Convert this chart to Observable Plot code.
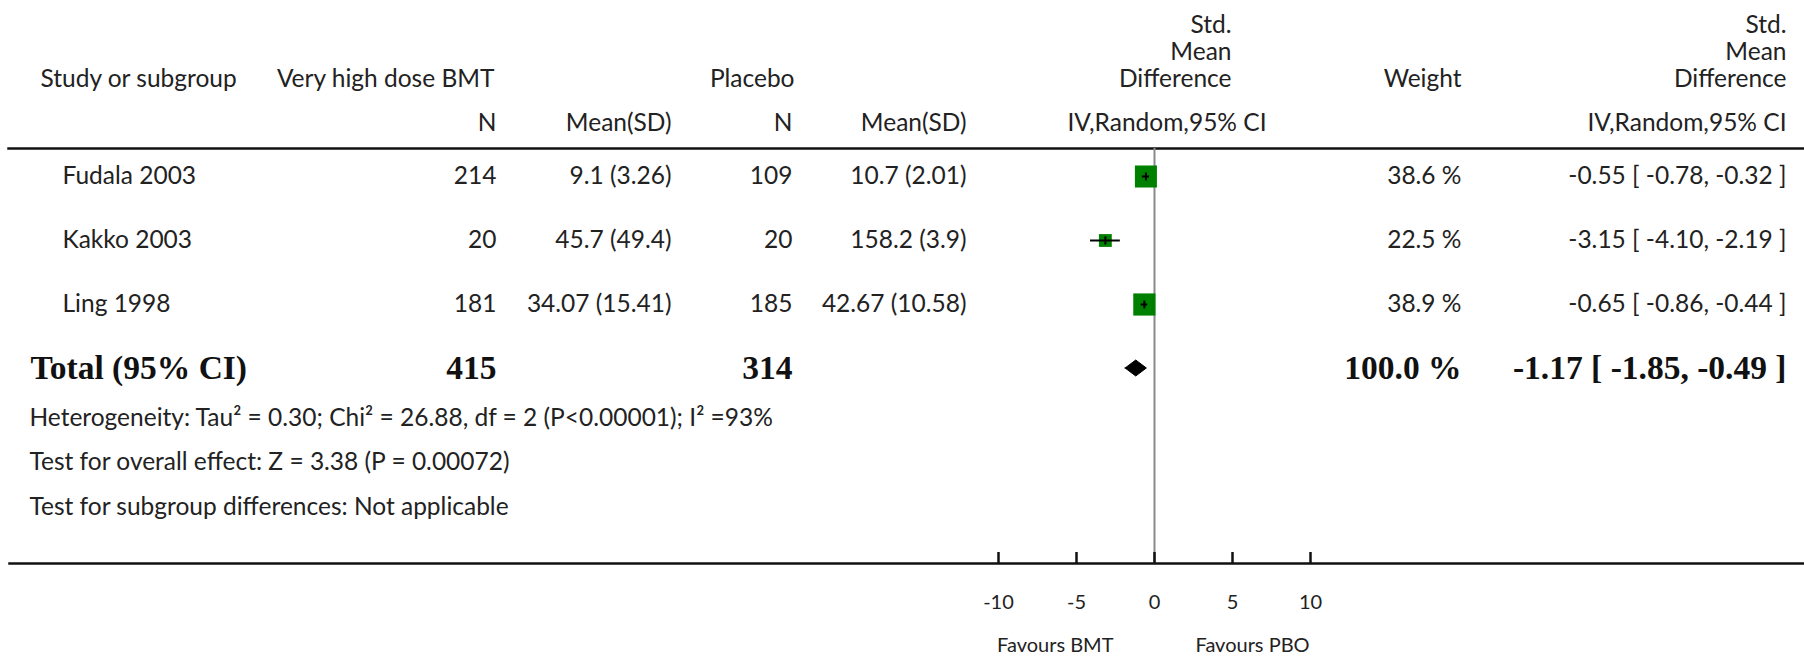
<!DOCTYPE html>
<html>
<head>
<meta charset="utf-8">
<script src="https://cdn.jsdelivr.net/npm/d3@7"></script>
<script src="https://cdn.jsdelivr.net/npm/@observablehq/plot@0.6"></script>
<style>
  html, body { margin: 0; padding: 0; background: #fff; }
</style>
</head>
<body>
<div id="chart"></div>
<script>
// ---------------- data ----------------
const studies = ["Fudala 2003", "Kakko 2003", "Ling 1998"];
const bmtN = [214, 20, 181];
const bmtMeanSD = ["9.1 (3.26)", "45.7 (49.4)", "34.07 (15.41)"];
const pboN = [109, 20, 185];
const pboMeanSD = ["10.7 (2.01)", "158.2 (3.9)", "42.67 (10.58)"];
const smd = [-0.55, -3.15, -0.65];
const ciLow = [-0.78, -4.10, -0.86];
const ciHigh = [-0.32, -2.19, -0.44];
const weight = [38.6, 22.5, 38.9];

const totalLabel = "Total (95% CI)";
const totalBmtN = 415;
const totalPboN = 314;
const totalWeight = 100.0;
const totalSmd = -1.17;
const totalLow = -1.85;
const totalHigh = -0.49;

const footnotes = [
  "Heterogeneity: Tau² = 0.30; Chi² = 26.88, df = 2 (P<0.00001); I² =93%",
  "Test for overall effect: Z = 3.38 (P = 0.00072)",
  "Test for subgroup differences: Not applicable"
];
const xTicks = [-10, -5, 0, 5, 10];
const favours = ["Favours BMT", "Favours PBO"];

const headStudy = "Study or subgroup";
const headBmt = "Very high dose BMT";
const headPbo = "Placebo";
const headSmd = "Std.\nMean\nDifference";
const headWeight = "Weight";
const subN = "N";
const subMean = "Mean(SD)";
const subMethod = "IV,Random,95% CI";

// ---------------- table built from the arrays ----------------
const f2 = v => v.toFixed(2);
const rows = studies.map((s, i) => ({
  i, study: s, bmtN: bmtN[i], bmtMean: bmtMeanSD[i], pboN: pboN[i], pboMean: pboMeanSD[i],
  smd: smd[i], lo: ciLow[i], hi: ciHigh[i], w: weight[i],
  wText: weight[i].toFixed(1) + " %",
  ciText: `${f2(smd[i])} [ ${f2(ciLow[i])}, ${f2(ciHigh[i])} ]`
}));
const totalRow = [{
  i: studies.length, label: totalLabel, bmtN: totalBmtN, pboN: totalPboN,
  wText: totalWeight.toFixed(1) + " %",
  ciText: `${f2(totalSmd)} [ ${f2(totalLow)}, ${f2(totalHigh)} ]`
}];
const diamondHalf = 0.125; // half height in row units
const diamond = [
  {x: totalLow, y1: studies.length, y2: studies.length},
  {x: totalSmd, y1: studies.length - diamondHalf, y2: studies.length + diamondHalf},
  {x: totalHigh, y1: studies.length, y2: studies.length}
];

// ---------------- layout ----------------
const W = 1804, H = 656;
const TOP = 148, BOTTOM = 563;
const INK = "#222";
const FS = 24.5;      // table text
const AFS = 20;       // axis text
const SERIF = "'Liberation Serif', 'Times New Roman', serif";

function head(label, x, anchor, baseline, extra = {}) {
  return Plot.text([label], {
    text: d => d, frameAnchor: "top-left", dx: x, dy: baseline - TOP,
    textAnchor: anchor, lineAnchor: "bottom", fontSize: FS, fill: INK, ...extra
  });
}
function col(data, field, x, anchor, extra = {}) {
  return Plot.text(data, {
    y: "i", text: field, frameAnchor: "left", dx: x, textAnchor: anchor,
    fontSize: FS, fill: INK, ...extra
  });
}
function foot(k, center) {
  return Plot.text([footnotes[k]], {
    text: d => d, frameAnchor: "top-left", dx: 29, dy: center - TOP,
    textAnchor: "start", lineAnchor: "middle", fontSize: FS, fill: INK
  });
}
const bold = {fontFamily: SERIF, fontWeight: "bold", fontSize: 33.5, fill: "#111"};

const tickSymbol = {draw(ctx) { ctx.moveTo(0, -4); ctx.lineTo(0, 4); }};

const chart = Plot.plot({
  width: W, height: H,
  marginTop: TOP, marginBottom: H - BOTTOM, marginLeft: 0, marginRight: 0,
  style: {fontFamily: "Lato, sans-serif", fontSize: FS + "px", color: INK, background: "#fff", overflow: "visible"},
  x: {domain: [-10, 10], range: [998, 1310], axis: null},
  y: {domain: [0, 3], range: [176, 368], axis: null},
  r: {type: "linear", domain: [0, 100], range: [0, 32.2]},
  marks: [
    // rules
    Plot.frame({anchor: "top", insetLeft: 8, stroke: "#111", strokeWidth: 2.5}),
    Plot.frame({anchor: "bottom", insetLeft: 9, stroke: "#111", strokeWidth: 2.5}),
    Plot.ruleX([0], {stroke: "#8a8a8a", strokeWidth: 2}),
    Plot.ruleX(xTicks, {insetTop: (BOTTOM - TOP) - 11, stroke: "#111", strokeWidth: 2.5}),
    Plot.axisX(xTicks, {tickSize: 0, tickPadding: 31, tickFormat: d => String(d), label: null, fontSize: AFS, fill: INK}),
    Plot.text([favours[0]], {x: () => 0, text: d => d, frameAnchor: "bottom", dy: 88, dx: -41, textAnchor: "end", fontSize: AFS, fill: INK}),
    Plot.text([favours[1]], {x: () => 0, text: d => d, frameAnchor: "bottom", dy: 88, dx: 41, textAnchor: "start", fontSize: AFS, fill: INK}),

    // headers
    head(headStudy, 40, "start", 86),
    head(headBmt, 494, "end", 86),
    head(headPbo, 794, "end", 86),
    head(headSmd, 1231, "end", 86, {lineHeight: 1.1}),
    head(headWeight, 1461, "end", 86),
    head(headSmd, 1786, "end", 86, {lineHeight: 1.1}),
    head(subN, 496, "end", 130),
    head(subMean, 671, "end", 130),
    head(subN, 792, "end", 130),
    head(subMean, 966, "end", 130),
    head(subMethod, 1266, "end", 130),
    head(subMethod, 1786, "end", 130),

    // study rows
    col(rows, "study", 62, "start"),
    col(rows, "bmtN", 496, "end"),
    col(rows, "bmtMean", 671, "end"),
    col(rows, "pboN", 792, "end"),
    col(rows, "pboMean", 966, "end"),
    col(rows, "wText", 1461, "end"),
    col(rows, "ciText", 1786, "end"),

    // total row
    col(totalRow, "label", 30, "start", bold),
    col(totalRow, "bmtN", 496, "end", bold),
    col(totalRow, "pboN", 792, "end", bold),
    col(totalRow, "wText", 1461, "end", bold),
    col(totalRow, "ciText", 1786, "end", bold),

    // footnotes
    foot(0, 418),
    foot(1, 462),
    foot(2, 507),

    // forest marks
    Plot.dot(rows, {x: "smd", y: "i", r: "w", symbol: "square", fill: "#008000", stroke: "none"}),
    Plot.ruleY(rows, {y: "i", x1: "lo", x2: "hi", stroke: "#000", strokeWidth: 2}),
    Plot.dot(rows, {x: "smd", y: "i", r: 4, symbol: tickSymbol, stroke: "#000", strokeWidth: 2, fill: "none"}),
    Plot.areaY(diamond, {x: "x", y1: "y1", y2: "y2", fill: "#000", stroke: "#000", strokeWidth: 1})
  ]
});
document.getElementById("chart").appendChild(chart);
</script>
</body>
</html>
